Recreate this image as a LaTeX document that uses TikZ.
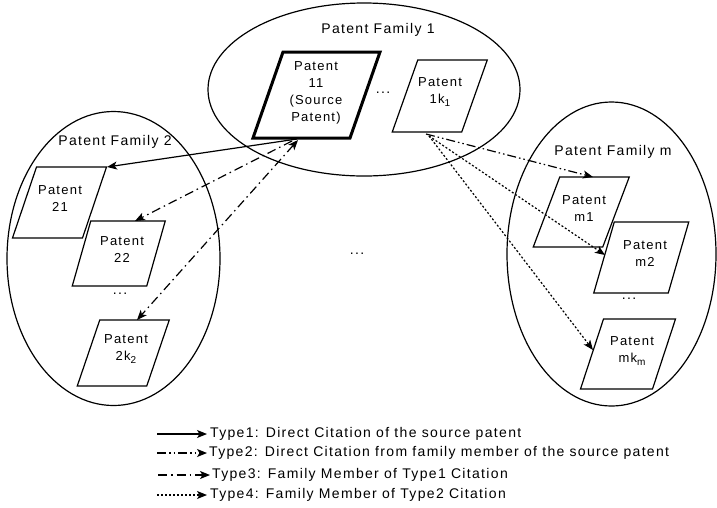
\documentclass[tikz,border=0pt]{standalone}
\usepackage{fontspec}
\setmainfont{Liberation Sans}[LetterSpace=9.5]
\usetikzlibrary{arrows.meta}
\newcommand\lowsub[1]{\raisebox{-3.5pt}{\fontsize{10}{10}\selectfont #1}}
\begin{document}
\begin{tikzpicture}[x=1pt,y=-1pt,
  every node/.style={inner sep=0pt},
  fam/.style={draw,line width=1.2pt},
  pbox/.style={draw,line width=1.2pt,line join=miter},
  srcbox/.style={draw,line width=3pt,line join=miter},
  btext/.style={font=\fontsize{13}{17}\selectfont,align=center},
  ltext/.style={font=\fontsize{14}{17}\selectfont},
  legtext/.style={font=\fontsize{14}{17}\selectfont,anchor=west},
  tip/.style={-{Stealth[length=10pt,width=8pt,inset=2.5pt]}},
  type1/.style={tip,line width=1.2pt},
  type2/.style={tip,line width=1.2pt,dash pattern=on 9pt off 3pt on 1.5pt off 3pt on 1.5pt off 3pt},
  type3/.style={tip,line width=1.2pt,dash pattern=on 9pt off 4pt on 1.5pt off 4pt},
  type4/.style={tip,line width=1.2pt,dash pattern=on 2pt off 2pt}]
\useasboundingbox (0,0) rectangle (717,507);
\newcommand\pgram[6]{\draw[#6] ({#1-#3/2+#5/2},{#2-#4/2}) -- ++(#3,0) -- ++(-#5,#4) -- ++(-#3,0) -- cycle;}

% families
\draw[fam] (364,89.5) ellipse [x radius=156, y radius=86.5];
\draw[fam] (113.5,258.5) ellipse [x radius=106.5, y radius=147];
\draw[fam] (611.5,254) ellipse [x radius=104.5, y radius=152];
\node[ltext] (f1) at (378,30) {Patent Family 1};
\node[ltext] (f2) at (115,142) {Patent Family 2};
\node[ltext] (fm) at (613,152) {Patent Family m};

% patent boxes
\pgram{316.5}{95}{97}{86}{30}{srcbox}
\pgram{439.75}{96}{69.5}{72}{25.5}{pbox}
\pgram{59.5}{202.5}{70}{71}{24}{pbox}
\pgram{118.75}{253.5}{74.5}{65}{18.5}{pbox}
\pgram{123.25}{353}{69.5}{66}{22.5}{pbox}
\pgram{581.25}{212}{69.5}{70}{26.5}{pbox}
\pgram{641.25}{257.5}{74.5}{71}{20.5}{pbox}
\pgram{628}{354}{72}{70}{23}{pbox}

\node[btext] (p11) at (316,93) {Patent\\11\\(Source\\Patent)};
\node[btext] (p1k) at (440,92) {Patent\\1k\lowsub{1}};
\node[btext] (p21) at (60,199) {Patent\\21};
\node[btext] (p22) at (122,250) {Patent\\22};
\node[btext] (p2k) at (126,349) {Patent\\2k\lowsub{2}};
\node[btext] (pm1) at (584,209) {Patent\\m1};
\node[btext] (pm2) at (645,254) {Patent\\m2};
\node[btext] (pmk) at (632,351) {Patent\\mk\lowsub{m}};

\node[ltext] (d1) at (383,93) {...};
\node[ltext] (d2) at (120,294) {...};
\node[ltext] (dm) at (629,299) {...};
\node[ltext] (dc) at (357,254) {...};

% connector endpoints
\coordinate (s1) at (297,139);
\coordinate (s3a) at (292,141);
\coordinate (s3b) at (298,140);
\coordinate (k0) at (426,134);
\coordinate (k4) at (429,136);
\coordinate (e21) at (107,167);
\coordinate (e22) at (135,221);
\coordinate (e2k) at (137,320);
\coordinate (em1) at (593,177);
\coordinate (em2) at (605,255);
\coordinate (emk) at (593,350);

\draw[type1] (s1) -- (e21);
\draw[type3] (s3a) -- (e22);
\draw[type3,{Stealth[length=10pt,width=8pt,inset=2.5pt]}-{Stealth[length=10pt,width=8pt,inset=2.5pt]}] (s3b) -- (e2k);
\draw[type2] (k0) -- (em1);
\draw[type4] (k4) -- (em2);
\draw[type4] (k4) -- (emk);

% legend
\coordinate (a1) at (157,434); \coordinate (b1) at (207,434);
\coordinate (a2) at (157,453); \coordinate (b2) at (207,453);
\coordinate (a3) at (158,475); \coordinate (b3) at (210,475);
\coordinate (a4) at (157,495); \coordinate (b4) at (207,495);
\draw[type1] (a1) -- (b1);
\draw[type2] (a2) -- (b2);
\draw[type3] (a3) -- (b3);
\draw[type4] (a4) -- (b4);
\node[legtext] (l1) at (210,434) {Type1: Direct Citation of the source patent};
\node[legtext] (l2) at (209,453) {Type2: Direct Citation from family member of the source patent};
\node[legtext] (l3) at (212,475) {Type3: Family Member of Type1 Citation};
\node[legtext] (l4) at (210,495) {Type4: Family Member of Type2 Citation};
\end{tikzpicture}
\end{document}
